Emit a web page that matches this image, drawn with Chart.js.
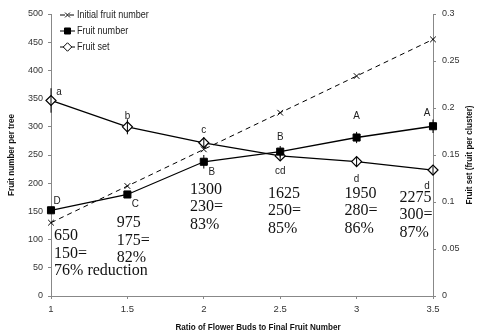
<!DOCTYPE html>
<html>
<head>
<meta charset="utf-8">
<script src="https://cdn.jsdelivr.net/npm/chart.js@4/dist/chart.umd.min.js"></script>
<style>
  html, body { margin: 0; padding: 0; background: #fff; }
  #wrap { width: 482px; height: 335px; }
</style>
</head>
<body>
<div id="wrap"><canvas id="chart" width="482" height="335"></canvas></div>
<script>
// data
const ratios = [1, 1.5, 2, 2.5, 3, 3.5];
const initialFruit = [130, 195, 260, 325, 390, 455];
const fruitNumber = [152, 180, 238, 256, 281, 301];
const fruitNumberErr = [6, 6, 12, 10, 10, 12];
const fruitSet = [0.208, 0.180, 0.163, 0.149, 0.143, 0.134];
const fruitSetErr = [0.013, 0.008, 0.006, 0.005, 0.005, 0.004];
const setLetters = ['a', 'b', 'c', 'cd', 'd', 'd'];
const numLetters = ['D', 'C', 'B', 'B', 'A', 'A'];
const notes = [
  ['650', '150=', '76% reduction'],
  ['975', '175=', '82%'],
  ['1300', '230=', '83%'],
  ['1625', '250=', '85%'],
  ['1950', '280=', '86%'],
  ['2275', '300=', '87%']
];
// where each note block starts (x value, top line y in left-axis units)
const noteX = [1.02, 1.43, 1.91, 2.42, 2.92, 3.28];
const noteY = [106, 129, 189, 182, 182, 175];

const sans = "'Liberation Sans Narrow', 'Liberation Sans', Arial, sans-serif";
const serif = "'Liberation Serif', 'Times New Roman', serif";

const pts = (arr) => ratios.map((x, i) => ({ x: x, y: arr[i] }));

// text squeezed sideways, to look like Arial Narrow
function narrowText(ctx, text, x, y, sx) {
  ctx.save();
  ctx.translate(x, y);
  ctx.scale(sx, 1);
  ctx.fillText(text, 0, 0);
  ctx.restore();
}

// error bars, letters, notes, titles, legend
const extras = {
  id: 'extras',
  afterDatasetsDraw(c) {
    const ctx = c.ctx;
    const xs = c.scales.x, yl = c.scales.y, yr = c.scales.y1;
    ctx.save();
    ctx.strokeStyle = '#000';
    ctx.lineWidth = 1;
    const bar = (px, y0, y1) => {
      ctx.beginPath();
      ctx.moveTo(px, y0); ctx.lineTo(px, y1);
      ctx.stroke();
    };
    ratios.forEach((r, i) => {
      const px = xs.getPixelForValue(r);
      bar(px, yr.getPixelForValue(fruitSet[i] - fruitSetErr[i]), yr.getPixelForValue(fruitSet[i] + fruitSetErr[i]));
      bar(px, yl.getPixelForValue(fruitNumber[i] - fruitNumberErr[i]), yl.getPixelForValue(fruitNumber[i] + fruitNumberErr[i]));
    });

    // significance letters
    ctx.fillStyle = '#222';
    ctx.font = '11px ' + sans;
    ctx.textAlign = 'center';
    ctx.textBaseline = 'middle';
    const setOff = [[8, -9], [0, -11], [0, -13], [0, 15], [0, 17], [-6, 16]];
    const numOff = [[6, -9], [8, 9], [8, 10], [0, -15], [0, -22], [-6, -13]];
    ratios.forEach((r, i) => {
      const px = xs.getPixelForValue(r);
      const ps = yr.getPixelForValue(fruitSet[i]);
      const pn = yl.getPixelForValue(fruitNumber[i]);
      narrowText(ctx, setLetters[i], px + setOff[i][0], ps + setOff[i][1], 0.9);
      narrowText(ctx, numLetters[i], px + numOff[i][0], pn + numOff[i][1], 0.9);
    });

    // notes
    ctx.font = '16px ' + serif;
    ctx.textAlign = 'left';
    ctx.fillStyle = '#111';
    notes.forEach((lines, i) => {
      const px = xs.getPixelForValue(noteX[i]);
      const py = yl.getPixelForValue(noteY[i]);
      lines.forEach((t, k) => ctx.fillText(t, px, py + k * 17.5));
    });

    // axis titles
    ctx.font = 'bold 9px ' + sans;
    ctx.fillStyle = '#111';
    ctx.textAlign = 'center';
    narrowText(ctx, 'Ratio of Flower Buds to Final Fruit Number', 258, 328, 0.9);
    const midY = (c.chartArea.top + c.chartArea.bottom) / 2;
    ctx.save();
    ctx.translate(12, midY);
    ctx.rotate(-Math.PI / 2);
    narrowText(ctx, 'Fruit number per tree', 0, 0, 0.9);
    ctx.restore();
    ctx.save();
    ctx.translate(470, midY);
    ctx.rotate(-Math.PI / 2);
    narrowText(ctx, 'Fruit set (fruit per cluster)', 0, 0, 0.9);
    ctx.restore();

    // legend
    ctx.font = '10.5px ' + sans;
    ctx.textAlign = 'left';
    c.data.datasets.forEach((ds, i) => {
      const y = 15 + i * 16;
      ctx.strokeStyle = '#000';
      ctx.lineWidth = 1;
      ctx.beginPath();
      ctx.setLineDash(ds.borderDash || []);
      ctx.moveTo(60, y); ctx.lineTo(75, y);
      ctx.stroke();
      ctx.setLineDash([]);
      ctx.fillStyle = ds.pointBackgroundColor;
      Chart.helpers.drawPoint(ctx, {
        pointStyle: ds.pointStyle,
        radius: ds.pointRadius * 0.85,
        borderWidth: 1
      }, 67.5, y);
      ctx.fillStyle = '#222';
      narrowText(ctx, ds.label, 77, y + 0.5, 0.86);
    });
    ctx.restore();
  }
};

new Chart(document.getElementById('chart'), {
  type: 'line',
  data: {
    datasets: [
      {
        label: 'Initial fruit number',
        data: pts(initialFruit),
        yAxisID: 'y',
        borderColor: '#000',
        borderWidth: 1,
        borderDash: [5, 4],
        pointStyle: 'crossRot',
        pointRadius: 4,
        pointBorderColor: '#000',
        pointBackgroundColor: '#fff',
        pointBorderWidth: 1,
        clip: false
      },
      {
        label: 'Fruit number',
        data: pts(fruitNumber),
        yAxisID: 'y',
        borderColor: '#000',
        borderWidth: 1.3,
        pointStyle: 'rect',
        pointRadius: 5,
        pointBorderColor: '#000',
        pointBackgroundColor: '#000',
        pointBorderWidth: 1,
        clip: false
      },
      {
        label: 'Fruit set',
        data: pts(fruitSet),
        yAxisID: 'y1',
        borderColor: '#000',
        borderWidth: 1.3,
        pointStyle: 'rectRot',
        pointRadius: 5,
        pointBorderColor: '#000',
        pointBackgroundColor: '#fff',
        pointBorderWidth: 1.2,
        clip: false
      }
    ]
  },
  options: {
    responsive: false,
    animation: false,
    layout: { padding: { top: 14, left: 0, right: 0, bottom: 0 } },
    plugins: {
      legend: { display: false },
      tooltip: { enabled: false }
    },
    scales: {
      x: {
        type: 'linear',
        min: 1, max: 3.5,
        afterFit: s => { s.height = 39; },
        grid: { display: true, drawOnChartArea: false, drawTicks: true, tickLength: 3, color: '#888' },
        border: { color: '#888' },
        ticks: { stepSize: 0.5, color: '#333', font: { family: sans, size: 9.5 }, padding: 5,
          callback: v => String(v) }
      },
      y: {
        position: 'left',
        min: 0, max: 500,
        afterFit: s => { s.width = 51; },
        grid: { display: true, drawOnChartArea: false, drawTicks: true, tickLength: 3, color: '#888' },
        border: { color: '#888' },
        ticks: { stepSize: 50, color: '#333', font: { family: sans, size: 9 }, padding: 5 }
      },
      y1: {
        position: 'right',
        min: 0, max: 0.3,
        afterFit: s => { s.width = 49; },
        grid: { display: true, drawOnChartArea: false, drawTicks: true, tickLength: 3, color: '#888' },
        border: { color: '#888' },
        ticks: { stepSize: 0.05, color: '#333', font: { family: sans, size: 9 }, padding: 6,
          callback: v => String(+v.toFixed(2)) }
      }
    }
  },
  plugins: [extras]
});
</script>
</body>
</html>
